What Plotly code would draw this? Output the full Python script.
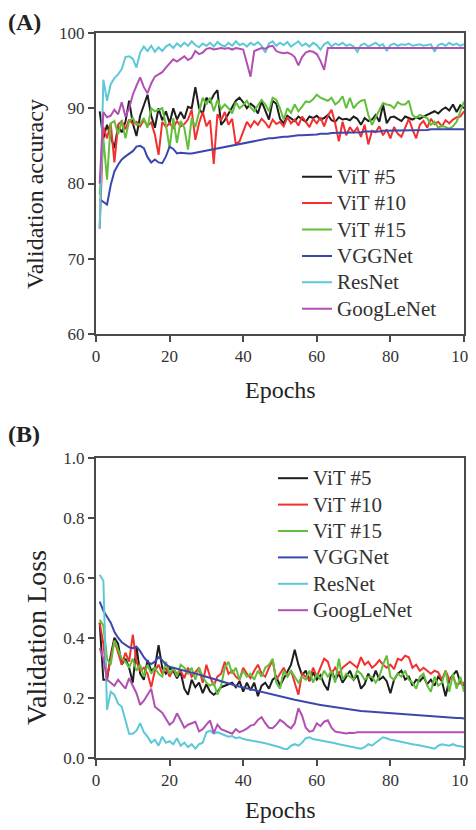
import plotly.graph_objects as go

epochs = list(range(1, 101))
series_names = ["ViT #5", "ViT #10", "ViT #15", "VGGNet", "ResNet", "GoogLeNet"]
series_colors = ["#1e1e1e", "#f23030", "#62bf3a", "#3a48ad", "#5cc8d8", "#b24fb2"]

# ---------- (A) validation accuracy ----------
acc_vit5 = [89.6, 86.0, 87.8, 86.2, 84.7, 87.6, 86.8, 88.2, 91.0, 88.0,
            86.3, 89.0, 90.5, 91.8, 89.0, 87.4, 90.0, 88.4, 89.6, 88.0,
            90.0, 88.5, 89.5, 88.6, 90.2, 90.0, 92.8, 90.0, 89.2, 91.4,
            90.8, 91.8, 92.4, 87.8, 88.4, 89.3, 90.1, 91.0, 91.4, 90.8,
            90.0, 90.6, 90.2, 89.3, 90.9, 89.8, 88.5, 91.0, 90.6, 88.6,
            88.0, 89.0, 88.6, 88.3, 88.9, 88.6, 88.2, 88.9, 88.7, 89.0,
            88.5, 88.7, 89.1, 88.4, 88.2, 88.8, 88.5, 88.6, 88.4, 88.9,
            88.6, 87.8, 88.7, 88.3, 88.5, 89.1, 88.2, 90.5, 88.0, 88.8,
            88.9, 88.6, 88.3, 88.9, 88.7, 88.5, 88.8, 88.6, 88.9, 89.1,
            89.4, 89.6, 89.3, 89.8, 90.1, 89.7, 90.5, 89.5, 90.4, 90.0]
acc_vit10 = [74.0, 87.5, 86.0, 88.0, 82.8, 87.8, 88.3, 87.2, 88.5, 87.9,
             88.2, 87.6, 88.4, 87.7, 88.1, 86.5, 83.8, 88.2, 87.5, 88.0,
             87.4, 88.3, 87.6, 87.9, 88.5, 89.8, 85.8, 88.0, 89.5, 87.6,
             88.4, 82.6, 89.2, 88.4, 89.5, 87.8, 88.6, 85.2, 85.6, 86.8,
             88.2, 87.5, 88.3, 87.8, 88.6, 88.1, 87.4, 88.5, 87.9, 88.2,
             87.6, 88.8, 88.0, 88.5, 87.7, 88.9, 88.2, 87.5, 88.6, 88.0,
             88.8, 87.6, 89.0, 89.8, 88.0, 85.6, 88.2, 86.4, 87.5, 86.8,
             87.4, 86.2, 87.8, 85.2, 87.0, 86.8, 87.6, 86.4, 87.2, 86.0,
             87.5, 86.6, 86.2, 87.4, 88.6, 87.2, 86.0, 87.8, 88.3, 87.4,
             88.6, 87.9, 88.2, 87.6, 88.4, 88.0, 88.5, 88.8, 88.9, 89.6]
acc_vit15 = [78.5, 86.0, 80.5, 88.0, 88.3, 86.5, 88.3, 86.0, 88.3, 88.7,
             87.8, 87.9, 88.7, 87.4, 90.0, 89.6, 89.8, 90.0, 87.8, 84.7,
             88.7, 85.4, 88.3, 87.4, 84.5, 88.7, 87.5, 89.6, 91.4, 90.5,
             91.4, 89.6, 91.1, 89.9, 90.5, 90.0, 89.3, 90.8, 90.0, 90.4,
             91.0, 90.1, 89.6, 90.4, 91.1, 90.5, 89.6, 91.4, 91.1, 90.0,
             88.5, 90.0, 89.4, 90.5, 89.6, 90.2, 90.9, 90.8, 91.2, 91.8,
             91.4, 91.2, 91.0, 91.4, 90.5, 90.9, 91.6, 90.0, 91.4, 90.0,
             90.6, 91.0, 91.1, 89.1, 87.8, 88.8, 89.8, 90.7, 90.5, 90.4,
             90.0, 90.8, 90.5, 90.5, 91.0, 89.1, 88.7, 89.1, 88.9, 88.7,
             87.8, 88.2, 87.4, 87.7, 87.5, 87.3, 87.6, 88.2, 89.6, 90.9]
acc_vgg = [77.9, 77.6, 77.2, 79.8, 81.6, 82.5, 83.2, 83.6, 84.0, 84.3,
           84.9, 85.0, 84.7, 83.5, 82.8, 83.2, 82.8, 82.7, 83.6, 84.9,
           84.6, 84.0, 84.1, 84.0, 84.0, 84.0, 84.1, 84.2, 84.3, 84.4,
           84.5, 84.6, 84.7, 84.8, 84.9, 85.0, 85.1, 85.2, 85.3, 85.4,
           85.5, 85.6, 85.7, 85.8, 85.8, 85.9, 86.0, 86.0, 86.1, 86.1,
           86.2, 86.2, 86.3, 86.3, 86.4, 86.4, 86.4, 86.5, 86.5, 86.5,
           86.6, 86.6, 86.6, 86.7, 86.7, 86.7, 86.7, 86.8, 86.8, 86.8,
           86.8, 86.8, 86.9, 86.9, 86.9, 86.9, 86.9, 87.0, 87.0, 87.0,
           87.0, 87.0, 87.0, 87.1, 87.1, 87.1, 87.1, 87.1, 87.1, 87.1,
           87.2, 87.2, 87.2, 87.2, 87.2, 87.2, 87.2, 87.2, 87.2, 87.2]
acc_resnet = [74.0, 93.8, 91.0, 93.2, 94.0, 94.5, 95.2, 96.8, 96.9, 96.6,
              95.4, 97.4, 98.2, 97.6, 98.3, 97.5, 98.1, 97.6, 98.2, 98.5,
              98.0, 98.6, 98.2, 98.7, 98.3, 98.9, 98.4, 98.1, 98.6, 98.3,
              98.7, 98.2, 98.8, 98.4, 98.2, 98.7, 98.3, 98.9, 98.4, 98.6,
              98.2, 98.7, 98.4, 98.8, 98.3, 97.4, 98.6, 98.9, 98.3, 98.7,
              98.4, 98.8, 98.2, 98.5, 98.9, 98.3, 98.6, 98.2, 98.7, 98.4,
              97.8, 98.5, 98.8, 98.2, 98.6, 98.4, 98.7, 98.3, 98.5, 98.2,
              97.5, 98.4, 98.6, 98.2, 98.5, 98.7, 98.3, 98.5, 97.6, 98.4,
              98.6, 98.3, 98.5, 98.4, 98.6, 98.3, 98.4, 98.5, 98.3, 98.4,
              98.5, 97.5, 98.4, 98.6, 98.3, 98.7, 98.4, 98.6, 98.3, 98.5]
acc_googlenet = [80.0, 89.5, 88.8, 89.0, 89.8, 89.2, 90.8, 88.9, 90.0, 91.8,
                 93.0, 94.1, 92.8, 92.0, 93.3, 94.2, 94.5, 94.8, 95.4, 96.0,
                 96.5, 96.2, 96.6, 96.9, 96.4, 96.7, 97.6, 97.2, 97.4, 97.9,
                 98.0, 97.8, 97.9, 98.0, 97.9, 98.0, 97.8, 98.0, 97.9, 97.8,
                 96.0, 94.2, 97.6, 97.8, 98.0, 97.9, 98.2, 98.3, 97.6, 97.4,
                 97.3, 97.4, 97.2, 96.8, 95.7, 96.8, 97.4, 97.6, 97.5, 97.2,
                 96.3, 95.1, 98.0, 98.0, 98.0, 98.0, 98.0, 98.0, 98.0, 98.0,
                 98.0, 98.0, 98.0, 98.0, 98.0, 98.0, 98.0, 98.0, 98.0, 98.0,
                 98.0, 98.0, 98.0, 98.0, 98.0, 98.0, 98.0, 98.0, 98.0, 98.0,
                 98.0, 98.0, 98.0, 98.0, 98.0, 98.0, 98.0, 98.0, 98.0, 98.0]

# ---------- (B) validation loss ----------
loss_vit5 = [0.45, 0.26, 0.26, 0.34, 0.40, 0.38, 0.31, 0.33, 0.30, 0.25,
             0.37, 0.28, 0.26, 0.325, 0.29, 0.30, 0.375, 0.30, 0.28, 0.30,
             0.29, 0.265, 0.285, 0.23, 0.21, 0.26, 0.235, 0.25, 0.215, 0.245,
             0.22, 0.21, 0.22, 0.235, 0.24, 0.245, 0.25, 0.235, 0.255, 0.22,
             0.25, 0.225, 0.25, 0.205, 0.24, 0.25, 0.23, 0.26, 0.27, 0.24,
             0.265, 0.29, 0.31, 0.36, 0.31, 0.275, 0.29, 0.255, 0.285, 0.26,
             0.275, 0.245, 0.225, 0.29, 0.26, 0.28, 0.25, 0.27, 0.29, 0.26,
             0.275, 0.23, 0.245, 0.28, 0.255, 0.29, 0.26, 0.27, 0.255, 0.215,
             0.26, 0.28, 0.29, 0.26, 0.27, 0.24, 0.26, 0.255, 0.27, 0.245,
             0.26, 0.24, 0.27, 0.255, 0.205, 0.26, 0.275, 0.29, 0.25, 0.24]
loss_vit10 = [0.45, 0.38, 0.27, 0.33, 0.39, 0.35, 0.31, 0.35, 0.32, 0.41,
              0.32, 0.29, 0.30, 0.28, 0.235, 0.29, 0.31, 0.28, 0.30, 0.27,
              0.295, 0.28, 0.29, 0.265, 0.30, 0.27, 0.285, 0.30, 0.25, 0.31,
              0.27, 0.24, 0.27, 0.28, 0.32, 0.28, 0.29, 0.27, 0.26, 0.30,
              0.28, 0.265, 0.29, 0.31, 0.28, 0.27, 0.30, 0.325, 0.26, 0.28,
              0.30, 0.27, 0.29, 0.25, 0.21, 0.28, 0.27, 0.26, 0.30, 0.27,
              0.30, 0.33, 0.32, 0.28, 0.30, 0.28, 0.30, 0.31, 0.32, 0.31,
              0.30, 0.335, 0.31, 0.32, 0.30, 0.31, 0.325, 0.31, 0.30, 0.31,
              0.295, 0.33, 0.325, 0.34, 0.335, 0.30, 0.31, 0.29, 0.30, 0.29,
              0.28, 0.29, 0.285, 0.26, 0.29, 0.26, 0.27, 0.24, 0.25, 0.25]
loss_vit15 = [0.46, 0.44, 0.33, 0.31, 0.39, 0.36, 0.33, 0.32, 0.30, 0.33,
              0.29, 0.31, 0.27, 0.31, 0.28, 0.30, 0.28, 0.27, 0.32, 0.28,
              0.30, 0.27, 0.31, 0.30, 0.28, 0.30, 0.26, 0.30, 0.27, 0.25,
              0.24, 0.25, 0.21, 0.24, 0.30, 0.32, 0.28, 0.30, 0.26, 0.29,
              0.27, 0.28, 0.26, 0.29, 0.27, 0.30, 0.31, 0.33, 0.25, 0.23,
              0.29, 0.27, 0.29, 0.27, 0.25, 0.27, 0.26, 0.29, 0.25, 0.28,
              0.26, 0.29, 0.27, 0.29, 0.25, 0.33, 0.26, 0.28, 0.27, 0.26,
              0.29, 0.28, 0.26, 0.27, 0.27, 0.25, 0.27, 0.31, 0.34, 0.27,
              0.26, 0.28, 0.27, 0.29, 0.26, 0.25, 0.23, 0.27, 0.28, 0.24,
              0.22, 0.27, 0.24, 0.25, 0.29, 0.22, 0.28, 0.23, 0.27, 0.22]
loss_vgg = [0.52, 0.49, 0.47, 0.45, 0.42, 0.40, 0.385, 0.375, 0.368, 0.365,
            0.37, 0.355, 0.335, 0.32, 0.312, 0.32, 0.335, 0.325, 0.31, 0.303,
            0.30, 0.296, 0.293, 0.29, 0.287, 0.283, 0.28, 0.277, 0.273, 0.27,
            0.266, 0.262, 0.259, 0.255, 0.252, 0.248, 0.244, 0.24, 0.237, 0.234,
            0.231, 0.228, 0.224, 0.221, 0.218, 0.216, 0.213, 0.21, 0.207, 0.204,
            0.201, 0.198, 0.196, 0.193, 0.191, 0.188, 0.185, 0.183, 0.18, 0.178,
            0.176, 0.174, 0.172, 0.17, 0.168, 0.166, 0.164, 0.162, 0.161, 0.159,
            0.158, 0.156, 0.155, 0.154, 0.153, 0.152, 0.151, 0.15, 0.149, 0.148,
            0.147, 0.146, 0.145, 0.144, 0.143, 0.142, 0.141, 0.14, 0.139, 0.138,
            0.137, 0.136, 0.136, 0.135, 0.134, 0.134, 0.133, 0.132, 0.132, 0.131]
loss_resnet = [0.61, 0.59, 0.16, 0.22, 0.21, 0.18, 0.17, 0.12, 0.08, 0.08,
               0.09, 0.115, 0.085, 0.07, 0.05, 0.06, 0.04, 0.07, 0.05, 0.055,
               0.045, 0.065, 0.04, 0.05, 0.035, 0.045, 0.03, 0.045, 0.05, 0.085,
               0.09, 0.08, 0.085, 0.08, 0.075, 0.07, 0.072, 0.065, 0.068, 0.062,
               0.06, 0.058, 0.055, 0.052, 0.05, 0.048, 0.045, 0.042, 0.04, 0.035,
               0.03, 0.028, 0.04, 0.045, 0.04, 0.05, 0.065, 0.068, 0.062, 0.06,
               0.058, 0.055, 0.052, 0.05, 0.048, 0.045, 0.042, 0.04, 0.037, 0.035,
               0.032, 0.03, 0.035, 0.045, 0.04, 0.05, 0.06, 0.068, 0.065, 0.06,
               0.058, 0.055, 0.052, 0.05, 0.048, 0.045, 0.043, 0.041, 0.039, 0.036,
               0.033, 0.03, 0.04, 0.045, 0.042, 0.04, 0.045, 0.04, 0.038, 0.036]
loss_googlenet = [0.365, 0.33, 0.26, 0.25, 0.24, 0.26, 0.245, 0.23, 0.265, 0.24,
                  0.215, 0.176, 0.19, 0.21, 0.23, 0.17, 0.16, 0.15, 0.13, 0.11,
                  0.12, 0.148, 0.125, 0.10, 0.11, 0.115, 0.12, 0.088, 0.095, 0.11,
                  0.124, 0.082, 0.11, 0.095, 0.09, 0.085, 0.08, 0.095, 0.085, 0.09,
                  0.097, 0.107, 0.11, 0.126, 0.135, 0.115, 0.10, 0.098, 0.11, 0.126,
                  0.118, 0.106, 0.098, 0.115, 0.165, 0.14, 0.10, 0.087, 0.09, 0.115,
                  0.105, 0.12, 0.125, 0.10, 0.087, 0.085, 0.083, 0.081, 0.083, 0.082,
                  0.085, 0.085, 0.084, 0.085, 0.085, 0.086, 0.085, 0.085, 0.084, 0.085,
                  0.085, 0.085, 0.085, 0.085, 0.085, 0.085, 0.085, 0.085, 0.085, 0.085,
                  0.085, 0.085, 0.085, 0.085, 0.085, 0.085, 0.085, 0.085, 0.085, 0.085]

acc_ticks = [60, 70, 80, 90, 100]
loss_ticks = [0.0, 0.2, 0.4, 0.6, 0.8, 1.0]
loss_tick_text = ["0.0", "0.2", "0.4", "0.6", "0.8", "1.0"]
epoch_ticks = [0, 20, 40, 60, 80, 100]

acc_series = [acc_vit5, acc_vit10, acc_vit15, acc_vgg, acc_resnet, acc_googlenet]
loss_series = [loss_vit5, loss_vit10, loss_vit15, loss_vgg, loss_resnet, loss_googlenet]

SERIF = "Liberation Serif, Times New Roman, serif"
AX = "#4a4a4a"
TXT = "#333333"
LEG_TEXT_PX = 21

def legend_label(name):
    return "<span style='font-size:%dpx'>%s</span>" % (LEG_TEXT_PX, name)

fig = go.Figure()
for name, color, ys in zip(series_names, series_colors, acc_series):
    fig.add_trace(go.Scatter(x=epochs, y=ys, mode="lines", name=legend_label(name),
                             line=dict(color=color, width=2),
                             xaxis="x", yaxis="y", legend="legend"))
for name, color, ys in zip(series_names, series_colors, loss_series):
    fig.add_trace(go.Scatter(x=epochs, y=ys, mode="lines", name=legend_label(name),
                             line=dict(color=color, width=2),
                             xaxis="x2", yaxis="y2", legend="legend2"))

W, H = 476, 830
OFF = 8  # page body margin: screen position = figure position + 8
def sx(p):
    return (p - OFF) / W
def sy(p):
    return 1 - (p - OFF) / H

axis_common = dict(showline=True, linecolor=AX, linewidth=2, mirror=True,
                   ticks="outside", ticklen=6, tickwidth=2, tickcolor=AX,
                   showgrid=False, zeroline=False, automargin=False,
                   ticklabeloverflow="allow",
                   tickfont=dict(family=SERIF, size=17, color=TXT))

xdom = [sx(96), sx(464)]
fig.update_layout(
    width=W, height=H,
    margin=dict(l=0, r=0, t=0, b=0, autoexpand=False),
    paper_bgcolor="white", plot_bgcolor="white",
    font=dict(family=SERIF, color=TXT),
    xaxis=dict(domain=xdom, range=[0, 100], tickvals=epoch_ticks, anchor="y", **axis_common),
    yaxis=dict(domain=[sy(334), sy(33)], range=[60, 100], tickvals=acc_ticks, anchor="x", **axis_common),
    xaxis2=dict(domain=xdom, range=[0, 100], tickvals=epoch_ticks, anchor="y2", **axis_common),
    yaxis2=dict(domain=[sy(757.7), sy(457.7)], range=[0, 1.0], tickvals=loss_ticks,
                ticktext=loss_tick_text, anchor="x2", **axis_common),
    legend=dict(x=sx(297), y=sy(158.5), xanchor="left", yanchor="top",
                bgcolor="rgba(0,0,0,0)", borderwidth=0,
                font=dict(family=SERIF, size=18, color=TXT), tracegroupgap=0),
    legend2=dict(x=sx(273), y=sy(460), xanchor="left", yanchor="top",
                 bgcolor="rgba(0,0,0,0)", borderwidth=0,
                 font=dict(family=SERIF, size=18, color=TXT), tracegroupgap=0),
    showlegend=True,
)

annots = [
    dict(text="<b>(A)</b>", x=sx(7), y=sy(8), xanchor="left", yanchor="top", size=24),
    dict(text="<b>(B)</b>", x=sx(7), y=sy(434), xanchor="left", yanchor="middle", size=24),
    dict(text="Epochs", x=sx(280), y=sy(390), xanchor="center", yanchor="middle", size=24),
    dict(text="Epochs", x=sx(280), y=sy(810), xanchor="center", yanchor="middle", size=24),
]
for a in annots:
    fig.add_annotation(text=a["text"], x=a["x"], y=a["y"], xref="paper", yref="paper",
                       xanchor=a["xanchor"], yanchor=a["yanchor"], showarrow=False,
                       borderpad=0,
                       font=dict(family=SERIF, size=a["size"], color="#222222"))
fig.add_annotation(text="Validation accuracy", x=sx(35), y=sy(194), xref="paper", yref="paper",
                   textangle=-90, showarrow=False, xanchor="center", yanchor="middle",
                   font=dict(family=SERIF, size=24, color="#222222"))
fig.add_annotation(text="Validation Loss", x=sx(36), y=sy(638), xref="paper", yref="paper",
                   textangle=-90, showarrow=False, xanchor="center", yanchor="middle",
                   font=dict(family=SERIF, size=28, color="#222222"))

fig.write_html("out.html")
